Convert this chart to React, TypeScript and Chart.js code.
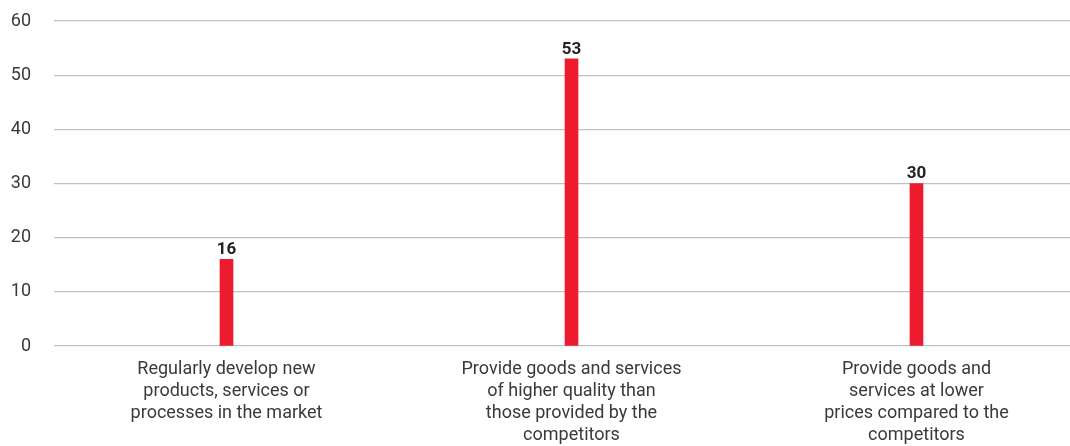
import React, { useEffect, useRef } from "react";
import { Chart, registerables } from "chart.js";

Chart.register(...registerables);

const categories: string[][] = [
  ["Regularly develop new", "products, services or", "processes in the market"],
  ["Provide goods and services", "of higher quality than", "those provided by the", "competitors"],
  ["Provide goods and", "services at lower", "prices compared to the", "competitors"],
];
const values: number[] = [16, 53, 30];
const yTicks: number[] = [0, 10, 20, 30, 40, 50, 60];

const FONT = "Roboto, 'DejaVu Sans', sans-serif";

const valueLabels = {
  id: "valueLabels",
  afterDatasetsDraw(chart: any) {
    const ctx = chart.ctx;
    const meta = chart.getDatasetMeta(0);
    ctx.save();
    ctx.font = `bold 17px ${FONT}`;
    ctx.fillStyle = "#231f20";
    ctx.textAlign = "center";
    ctx.textBaseline = "bottom";
    meta.data.forEach((bar: any, i: number) => {
      ctx.fillText(String(values[i]), bar.x, bar.y - 1);
    });
    ctx.restore();
  },
};

export default function App() {
  const ref = useRef<HTMLCanvasElement | null>(null);
  useEffect(() => {
    if (!ref.current) return;
    const chart = new Chart(ref.current, {
      type: "bar",
      data: {
        labels: categories,
        datasets: [
          {
            data: values,
            backgroundColor: "#ec1c2e",
            barThickness: 13,
          },
        ],
      },
      options: {
        animation: false,
        responsive: false,
        maintainAspectRatio: false,
        layout: { padding: { top: 21, right: 0, left: 0, bottom: 0 } },
        plugins: { legend: { display: false }, tooltip: { enabled: false } },
        scales: {
          x: {
            grid: { display: false, drawTicks: false },
            border: { display: false },
            afterFit: (axis: any) => {
              axis.height = 100;
              axis.paddingLeft = 0;
              axis.paddingRight = 0;
            },
            ticks: {
              color: "#3a3a3a",
              font: { family: FONT, size: 18, lineHeight: 1.22 },
              padding: 13,
              maxRotation: 0,
              autoSkip: false,
            },
          },
          y: {
            min: 0,
            max: 60,
            afterBuildTicks: (axis: any) => {
              axis.ticks = yTicks.map((v) => ({ value: v }));
            },
            afterFit: (axis: any) => {
              axis.width = 54;
              axis.paddingTop = 0;
              axis.paddingBottom = 0;
            },
            grid: { color: "#bfc1c4", lineWidth: 1.2, drawTicks: false },
            border: { display: false },
            ticks: {
              color: "#3a3a3a",
              font: { family: FONT, size: 18 },
              padding: 23,
            },
          },
        },
      },
      plugins: [valueLabels],
    });
    return () => chart.destroy();
  }, []);
  return (
    <div style={{ position: "fixed", left: 0, top: 0, width: 1070, height: 446, overflow: "hidden", background: "#fff" }}>
      <canvas ref={ref} width={1089} height={446} style={{ display: "block" }} />
    </div>
  );
}
